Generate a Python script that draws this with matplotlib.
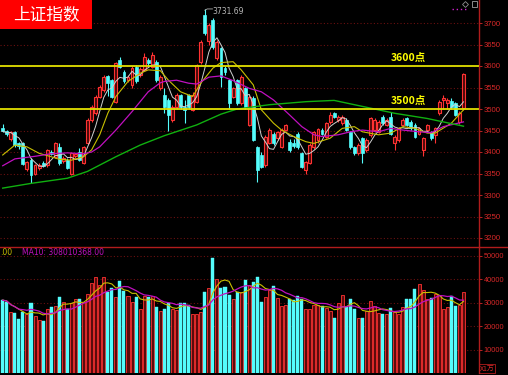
import numpy as np
import pandas as pd
import matplotlib
matplotlib.use('Agg')
import matplotlib.pyplot as plt
from matplotlib.patches import Rectangle
from matplotlib.lines import Line2D

plt.rcParams['font.family'] = ['Noto Sans CJK SC', 'DejaVu Sans']

# ---------------- data ----------------
opens = [3456, 3449, 3430, 3446, 3420, 3420, 3360, 3381, 3350, 3362,
         3374, 3370, 3401, 3389, 3412, 3378, 3381, 3350, 3390, 3401,
         3374, 3420, 3474, 3490, 3529, 3544, 3577, 3567, 3517, 3614,
         3587, 3567, 3556, 3598, 3579, 3591, 3614, 3598, 3610, 3548,
         3533, 3521, 3474, 3505, 3533, 3505, 3533, 3498, 3517, 3610,
         3719, 3657, 3707, 3618, 3641, 3595, 3567, 3529, 3567, 3513,
         3548, 3463, 3525, 3412, 3393, 3370, 3420, 3443, 3432, 3412,
         3451, 3424, 3420, 3443, 3397, 3358, 3374, 3412, 3428, 3451,
         3436, 3470, 3490, 3474, 3467, 3474, 3447, 3412, 3397, 3432,
         3405, 3440, 3451, 3447, 3482, 3463, 3482, 3420, 3428, 3463,
         3478, 3470, 3463, 3443, 3405, 3451, 3447, 3440, 3490, 3521,
         3513, 3518, 3514, 3470, 3502]
highs = [3465, 3452, 3450, 3450, 3424, 3424, 3380, 3385, 3373, 3374,
         3378, 3408, 3405, 3424, 3420, 3390, 3385, 3400, 3398, 3410,
         3415, 3478, 3510, 3533, 3556, 3578, 3580, 3570, 3610, 3622,
         3590, 3580, 3600, 3602, 3597, 3630, 3618, 3632, 3614, 3580,
         3548, 3525, 3510, 3538, 3536, 3520, 3536, 3540, 3605, 3660,
         3731.69, 3700, 3712, 3660, 3645, 3600, 3570, 3552, 3570, 3578,
         3552, 3533, 3530, 3415, 3400, 3440, 3455, 3446, 3450, 3455,
         3466, 3430, 3430, 3446, 3400, 3380, 3420, 3450, 3456, 3455,
         3470, 3492, 3493, 3486, 3486, 3478, 3450, 3415, 3420, 3436,
         3432, 3482, 3478, 3474, 3486, 3478, 3494, 3440, 3458, 3478,
         3482, 3474, 3467, 3458, 3436, 3466, 3450, 3458, 3521, 3533,
         3525, 3525, 3516, 3495, 3583]
lows = [3446, 3438, 3425, 3412, 3408, 3370, 3356, 3327, 3347, 3358,
        3364, 3365, 3392, 3385, 3370, 3375, 3360, 3347, 3386, 3378,
        3372, 3418, 3470, 3485, 3525, 3540, 3530, 3525, 3515, 3595,
        3560, 3563, 3550, 3560, 3575, 3588, 3600, 3595, 3563, 3545,
        3490, 3450, 3470, 3500, 3500, 3468, 3500, 3495, 3515, 3605,
        3672, 3650, 3640, 3615, 3552, 3580, 3500, 3525, 3510, 3510,
        3500, 3460, 3425, 3330, 3362, 3366, 3418, 3416, 3428, 3410,
        3448, 3400, 3410, 3408, 3363, 3350, 3372, 3408, 3420, 3440,
        3432, 3466, 3478, 3470, 3462, 3448, 3408, 3393, 3393, 3375,
        3400, 3436, 3447, 3444, 3463, 3460, 3440, 3405, 3424, 3460,
        3460, 3452, 3432, 3440, 3390, 3448, 3428, 3420, 3486, 3500,
        3500, 3500, 3484, 3465, 3498]
closes = [3448, 3442, 3446, 3416, 3413, 3373, 3377, 3346, 3370, 3370,
          3368, 3405, 3395, 3420, 3374, 3385, 3362, 3397, 3395, 3381,
          3412, 3474, 3505, 3529, 3552, 3575, 3560, 3529, 3606, 3598,
          3564, 3575, 3595, 3564, 3594, 3622, 3606, 3625, 3567, 3575,
          3505, 3486, 3505, 3533, 3505, 3498, 3505, 3533, 3602, 3656,
          3676, 3695, 3645, 3656, 3575, 3587, 3513, 3548, 3513, 3575,
          3505, 3529, 3428, 3358, 3366, 3436, 3451, 3420, 3447, 3451,
          3463, 3405, 3414, 3412, 3366, 3377, 3416, 3447, 3453, 3443,
          3467, 3486, 3482, 3482, 3482, 3451, 3412, 3397, 3416, 3397,
          3428, 3478, 3474, 3470, 3467, 3474, 3443, 3436, 3455, 3474,
          3463, 3455, 3436, 3455, 3432, 3463, 3432, 3455, 3517, 3525,
          3521, 3505, 3486, 3490, 3581]
volumes = [31000, 30300, 26000, 25600, 22900, 26000, 25000, 30000, 24100, 22400,
           22100, 27400, 28100, 28400, 32400, 30300, 27400, 29600, 31700, 31300,
           30300, 33800, 38400, 40900, 37400, 40700, 34500, 36000, 32400, 39100,
           35000, 32700, 30300, 32400, 27400, 32700, 32400, 32700, 28100, 26400,
           27400, 29600, 27400, 26700, 29600, 30000, 29100, 25000, 25300, 26000,
           34300, 36200, 48800, 40000, 36200, 36700, 33400, 31400, 34300, 34500,
           39500, 37400, 38800, 40900, 30300, 32400, 35300, 37000, 32000, 28400,
           28800, 31400, 31000, 32800, 31700, 27100, 27400, 28800, 28800, 28400,
           27700, 26300, 23600, 29800, 33400, 28100, 31300, 27100, 23400, 23400,
           26300, 30500, 28600, 25600, 25300, 25000, 27700, 26000, 25300, 27900,
           31300, 31300, 35600, 37700, 35300, 31300, 32000, 33800, 33100, 27400,
           28100, 32700, 28400, 28800, 34300]

# moving-average lines (candle index, value)
ma10_idx = [0, 3, 6, 9, 12, 14, 17, 20, 22, 24, 26, 28, 31, 34, 36, 39, 41, 44, 47, 49,
            52, 54, 57, 59, 62, 64, 67, 69, 72, 75, 77, 81, 84, 87, 89, 93, 96, 99, 102,
            105, 107, 111, 114]
ma10_val = [3393, 3416, 3412, 3397, 3389, 3383, 3381, 3389, 3405, 3440, 3490, 3529, 3564,
            3583, 3591, 3589, 3567, 3540, 3529, 3560, 3595, 3608, 3610, 3591, 3556, 3498,
            3467, 3451, 3436, 3424, 3420, 3432, 3455, 3459, 3447, 3440, 3444, 3459, 3455,
            3444, 3444, 3467, 3498]
ma20_idx = [0, 3, 8, 12, 16, 20, 22, 24, 28, 32, 36, 39, 40, 43, 46, 48, 51, 54, 57, 61,
            64, 67, 71, 74, 77, 79, 83, 86, 89, 93, 96, 99, 103, 106, 109, 114]
ma20_val = [3368, 3384, 3390, 3396, 3398, 3396, 3400, 3412, 3451, 3494, 3540, 3561, 3564,
            3567, 3560, 3558, 3574, 3577, 3566, 3548, 3540, 3521, 3486, 3459, 3440, 3436,
            3440, 3447, 3451, 3447, 3455, 3451, 3447, 3445, 3459, 3470]
ma60_idx = [0, 7, 16, 21, 28, 34, 40, 48, 54, 58, 66, 75, 82, 88, 97, 105, 110, 114]
ma60_val = [3316, 3327, 3339, 3355, 3389, 3416, 3438, 3463, 3488, 3500, 3510, 3517, 3520,
            3508, 3490, 3478, 3468, 3460]

price_ticks = [3200, 3250, 3300, 3350, 3400, 3450, 3500, 3550, 3600, 3650, 3700]
vol_ticks = [10000, 20000, 30000, 40000, 50000]
level_lines = [3600, 3500]
level_labels = ['3600点', '3500点']
title_text = '上证指数'
peak_text = '3731.69'
vol_label_left = '.00'
vol_label_ma10 = 'MA10: 308010368.00'
unit_text = 'X1万'

# ---------------- styles ----------------
BG = '#000000'
UP_EDGE = '#ff3232'
UP_FACE = '#4a0808'
DN = '#54fcfc'
AXIS_RED = '#b01c1c'
TICK_RED = '#d82828'
GRID = '#6a1010'
TICK_FONT = 'Liberation Sans'

W, H = 508, 375
fig = plt.figure(figsize=(W / 100, H / 100), dpi=100, facecolor=BG)

ax_right = 479 / W
split = (375 - 247) / H
axp = fig.add_axes([0, split, ax_right, 1 - split], facecolor=BG)
axv = fig.add_axes([0, 2 / H, ax_right, split - 2 / H], facecolor=BG)

n = len(closes)
x = np.arange(n)
o = np.array(opens, float); c = np.array(closes, float)
hi = np.array(highs, float); lo = np.array(lows, float)
up = c >= o

# ---- price candles ----
axp.vlines(x[up], lo[up], hi[up], color=UP_EDGE, lw=0.8, zorder=2)
axp.vlines(x[~up], lo[~up], hi[~up], color=DN, lw=0.8, zorder=2)
body_bot = np.minimum(o, c)
body_h = np.maximum(np.abs(c - o), 1.2)
axp.bar(x[up], body_h[up], bottom=body_bot[up], width=0.72, facecolor=UP_FACE,
        edgecolor=UP_EDGE, linewidth=0.8, zorder=3)
axp.bar(x[~up], body_h[~up], bottom=body_bot[~up], width=0.72, facecolor=DN,
        edgecolor=DN, linewidth=0.5, zorder=3)

# ---- moving averages ----
ma5 = pd.Series(closes).rolling(5, min_periods=1).mean()
axp.plot(x, ma5, color='#d0d0d0', lw=0.7, zorder=4)
axp.plot(ma10_idx, ma10_val, color='#c8c000', lw=0.8, zorder=4)
axp.plot(ma20_idx, ma20_val, color='#c010c0', lw=0.9, zorder=4)
axp.plot(ma60_idx, ma60_val, color='#10b010', lw=1.0, zorder=4)

# ---- level lines ----
for lv, lab in zip(level_lines, level_labels):
    axp.axhline(lv, color='#e0e000', lw=1.3, zorder=5)
    axp.text(95.9, lv + 18, lab, color='#ffff00', fontsize=7.5, fontweight='bold',
             va='center', ha='left', zorder=6,
             family=['Noto Sans CJK SC', 'DejaVu Sans'])

# ---- peak annotation ----
pk = int(np.argmax(hi))
axp.plot([pk, pk + 0.6, pk + 1.9], [hi[pk] - 2, hi[pk] + 1, hi[pk] + 1],
         color='#b0b0b0', lw=0.6, zorder=6)
axp.text(pk + 2.0, hi[pk] - 5, peak_text, color='#b8b8b8', fontsize=5.5,
         va='center', ha='left', family='DejaVu Sans', zorder=6)

# axes formatting price
px_per_unit = 4.042
xl = (-2.7 / px_per_unit, (479 - 2.7) / px_per_unit)
axp.set_xlim(*xl)
axp.set_ylim(3500 - 138 * 50 / 21.5, 3500 + 109 * 50 / 21.5)
axp.set_yticks(price_ticks)
axp.set_yticklabels([str(t) for t in price_ticks])
axp.yaxis.tick_right()
axp.tick_params(axis='y', colors=TICK_RED, labelsize=5.6, length=2, width=0.6, pad=1.5)
axp.set_xticks([])
for t in axp.get_yticklabels():
    t.set_family(TICK_FONT)
axp.grid(axis='y', color=GRID, linestyle=(0, (1, 2)), lw=0.8)
axp.set_axisbelow(True)
for s in ['left', 'top', 'bottom']:
    axp.spines[s].set_visible(False)
axp.spines['right'].set_color(AXIS_RED)
axp.spines['right'].set_linewidth(1.0)

# ---- volume ----
v = np.array(volumes, float)
axv.bar(x[up], v[up], width=0.75, facecolor='#5a0c0c', edgecolor=UP_EDGE, linewidth=0.6, zorder=3)
axv.bar(x[~up], v[~up], width=0.75, facecolor=DN, edgecolor=DN, linewidth=0.3, zorder=3)
vma5 = pd.Series(volumes).rolling(5, min_periods=1).mean()
vma10 = pd.Series(volumes).rolling(10, min_periods=1).mean()
axv.plot(x, vma5, color='#c8c000', lw=0.8, zorder=4)
axv.plot(x, vma10, color='#c010c0', lw=0.9, zorder=4)
axv.set_xlim(*xl)
axv.set_ylim(0, (372.5 - 247) / 23.4 * 10000)
axv.set_yticks(vol_ticks)
axv.set_yticklabels([str(t) for t in vol_ticks])
axv.yaxis.tick_right()
axv.tick_params(axis='y', colors=TICK_RED, labelsize=5.3, length=2, width=0.6, pad=1.5)
axv.set_xticks([])
for t in axv.get_yticklabels():
    t.set_family(TICK_FONT)
axv.grid(axis='y', color=GRID, linestyle=(0, (1, 2)), lw=0.8)
axv.set_axisbelow(True)
for s in ['left', 'top', 'bottom']:
    axv.spines[s].set_visible(False)
axv.spines['right'].set_color(AXIS_RED)
axv.spines['right'].set_linewidth(1.0)

axv.text(0.0, 0.955, vol_label_left, transform=axv.transAxes, color='#c8c000',
         fontsize=5.5, va='center', ha='left', family='DejaVu Sans')
axv.text(0.045, 0.955, vol_label_ma10, transform=axv.transAxes, color='#c010c0',
         fontsize=5.5, va='center', ha='left', family='DejaVu Sans')

# separator line across the whole width
fig.add_artist(Line2D([0, 1], [1 - 247 / H, 1 - 247 / H], color=AXIS_RED, lw=1.0,
                      transform=fig.transFigure))

# title box
fig.add_artist(Rectangle((0, 1 - 29 / H), 92 / W, 29 / H, transform=fig.transFigure,
                         facecolor='#ff0000', edgecolor='none', zorder=10))
fig.text(46 / W, 1 - 14.5 / H, title_text, color='white', fontsize=12, ha='center',
         va='center', zorder=11, family=['Noto Sans CJK SC', 'DejaVu Sans'])

# unit box bottom right
fig.text(487 / W, 2.5 / H, unit_text, color=TICK_RED, fontsize=5, ha='center', va='bottom',
         family=['Noto Sans CJK SC', 'DejaVu Sans'],
         bbox=dict(facecolor='none', edgecolor=AXIS_RED, lw=0.6, pad=0.6))

# small top-right markers
fig.add_artist(Line2D([452 / W, 466 / W], [1 - 9 / H, 1 - 9 / H], color='#d020d0', lw=1.0,
                      linestyle=(0, (1, 2)), transform=fig.transFigure))
fig.add_artist(Line2D([464.5 / W], [1 - 4 / H], marker='D', markersize=3, markerfacecolor='none',
                      markeredgecolor='#909090', markeredgewidth=0.6, transform=fig.transFigure))
fig.add_artist(Rectangle((471.5 / W, 1 - 7 / H), 5 / W, 6 / H, transform=fig.transFigure,
                         facecolor='none', edgecolor='#a0a0a0', lw=0.6))

fig.savefig('out.png', dpi=100, facecolor=BG)
